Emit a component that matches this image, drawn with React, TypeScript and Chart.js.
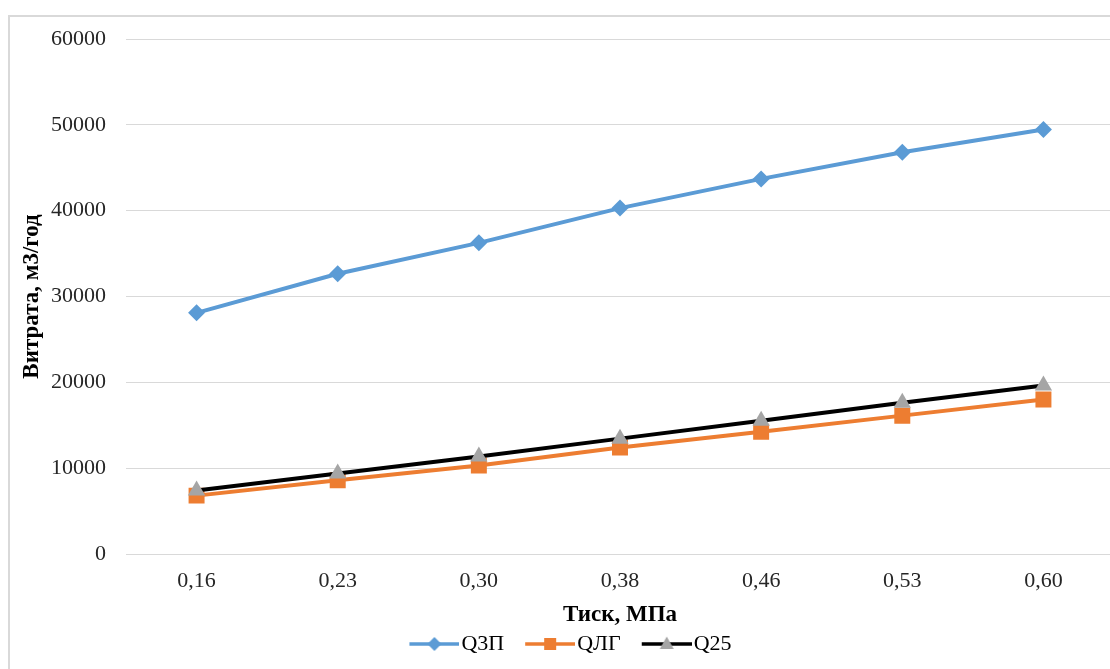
import { useEffect, useRef } from "react";
import Chart from "chart.js/auto";

const categories = ["0,16", "0,23", "0,30", "0,38", "0,46", "0,53", "0,60"];
const seriesNames = ["Q3П", "QЛГ", "Q25"];
const q3p = [28100, 32650, 36250, 40300, 43700, 46800, 49450];
const qlg = [6800, 8580, 10320, 12420, 14250, 16120, 18000];
const q25 = [7400, 9370, 11370, 13440, 15530, 17620, 19640];
const yMin = 0;
const yMax = 60000;
const yStep = 10000;
const xTitle = "Тиск, МПа";
const yTitle = "Витрата, м3/год";

const FONT = "'Liberation Serif', 'Times New Roman', serif";
const BLUE = "#5B9BD5";
const ORANGE = "#ED7D31";
const BLACK = "#000000";
const GRAY = "#A5A5A5";

// legend icon: 76px wide image, line drawn from x=26 to x=76
function makeIcon(lineColor: string, marker: string, markerColor: string) {
  const c = document.createElement("canvas");
  c.width = 76;
  c.height = 18;
  const ctx = c.getContext("2d")!;
  const x0 = 26;
  const x1 = 76;
  const cx = (x0 + x1) / 2;
  const cy = 9;
  ctx.strokeStyle = lineColor;
  ctx.lineWidth = 3.5;
  ctx.beginPath();
  ctx.moveTo(x0, cy);
  ctx.lineTo(x1, cy);
  ctx.stroke();
  ctx.fillStyle = markerColor;
  ctx.beginPath();
  if (marker === "diamond") {
    ctx.moveTo(cx, cy - 7);
    ctx.lineTo(cx + 7, cy);
    ctx.lineTo(cx, cy + 7);
    ctx.lineTo(cx - 7, cy);
    ctx.closePath();
  } else if (marker === "square") {
    ctx.rect(cx - 6, cy - 6, 12, 12);
  } else {
    ctx.moveTo(cx, cy - 7.5);
    ctx.lineTo(cx + 7, cy + 5);
    ctx.lineTo(cx - 7, cy + 5);
    ctx.closePath();
  }
  ctx.fill();
  return c;
}

export default function App() {
  const ref = useRef<HTMLCanvasElement | null>(null);
  useEffect(() => {
    if (!ref.current) return;
    const icons = [
      makeIcon(BLUE, "diamond", BLUE),
      makeIcon(ORANGE, "square", ORANGE),
      makeIcon(BLACK, "triangle", GRAY),
    ];
    const chart = new Chart(ref.current, {
      type: "line",
      data: {
        labels: categories,
        datasets: [
          {
            label: seriesNames[0],
            data: q3p,
            borderColor: BLUE,
            backgroundColor: BLUE,
            borderWidth: 4,
            pointStyle: "rectRot",
            pointRadius: 8.5,
            pointBorderWidth: 0,
            pointBackgroundColor: BLUE,
            order: 2,
          },
          {
            label: seriesNames[1],
            data: qlg,
            borderColor: ORANGE,
            backgroundColor: ORANGE,
            borderWidth: 4,
            pointStyle: "rect",
            pointRadius: 11.3,
            pointBorderWidth: 0,
            pointBackgroundColor: ORANGE,
            order: 1,
          },
          {
            label: seriesNames[2],
            data: q25,
            borderColor: BLACK,
            backgroundColor: GRAY,
            borderWidth: 4,
            pointStyle: "triangle",
            pointRadius: 10,
            pointBorderWidth: 0,
            pointBackgroundColor: GRAY,
            order: 0,
          },
        ],
      },
      options: {
        responsive: false,
        animation: false,
        devicePixelRatio: 1,
        layout: { autoPadding: false, padding: { top: 22, right: 6, bottom: 4, left: 0 } },
        plugins: {
          tooltip: { enabled: false },
          legend: {
            position: "bottom",
            labels: {
              usePointStyle: true,
              pointStyleWidth: 58,
              padding: 4,
              color: "#000",
              font: { family: FONT, size: 22 },
              sort: (a: any, b: any) => a.datasetIndex - b.datasetIndex,
              generateLabels: (c: any) =>
                Chart.defaults.plugins.legend.labels
                  .generateLabels(c)
                  .map((l: any) => ({ ...l, pointStyle: icons[l.datasetIndex] })),
            },
          },
        },
        scales: {
          x: {
            offset: true,
            grid: { display: false, drawTicks: false },
            border: { display: false },
            ticks: { color: "#262626", font: { family: FONT, size: 22 }, padding: 14 },
            title: {
              display: true,
              text: xTitle,
              color: "#000",
              font: { family: FONT, size: 23, weight: "bold" },
              padding: { top: 0, bottom: 0 },
            },
            afterFit: (s: any) => {
              s.height = 75;
            },
          },
          y: {
            min: yMin,
            max: yMax,
            ticks: {
              stepSize: yStep,
              color: "#262626",
              font: { family: FONT, size: 22 },
              padding: 0,
              callback: (v: any) => String(v),
            },
            grid: {
              color: "#d9d9d9",
              lineWidth: 1,
              drawTicks: true,
              tickLength: 20,
              tickColor: "rgba(0,0,0,0)",
            },
            border: { display: false },
            title: {
              display: true,
              text: yTitle,
              color: "#000",
              font: { family: FONT, size: 23, weight: "bold" },
              padding: { top: 8, bottom: 0 },
            },
            afterFit: (s: any) => {
              s.width = 116;
            },
          },
        },
      },
    } as any);
    return () => chart.destroy();
  }, []);
  return (
    <div
      style={{
        position: "absolute",
        left: 8,
        top: 15,
        width: 1102,
        height: 654,
        overflow: "hidden",
        borderLeft: "2px solid #d9d9d9",
        borderTop: "2px solid #d9d9d9",
        boxSizing: "border-box",
        background: "#fff",
      }}
    >
      <canvas ref={ref} width={1110} height={652} style={{ display: "block" }} />
    </div>
  );
}
